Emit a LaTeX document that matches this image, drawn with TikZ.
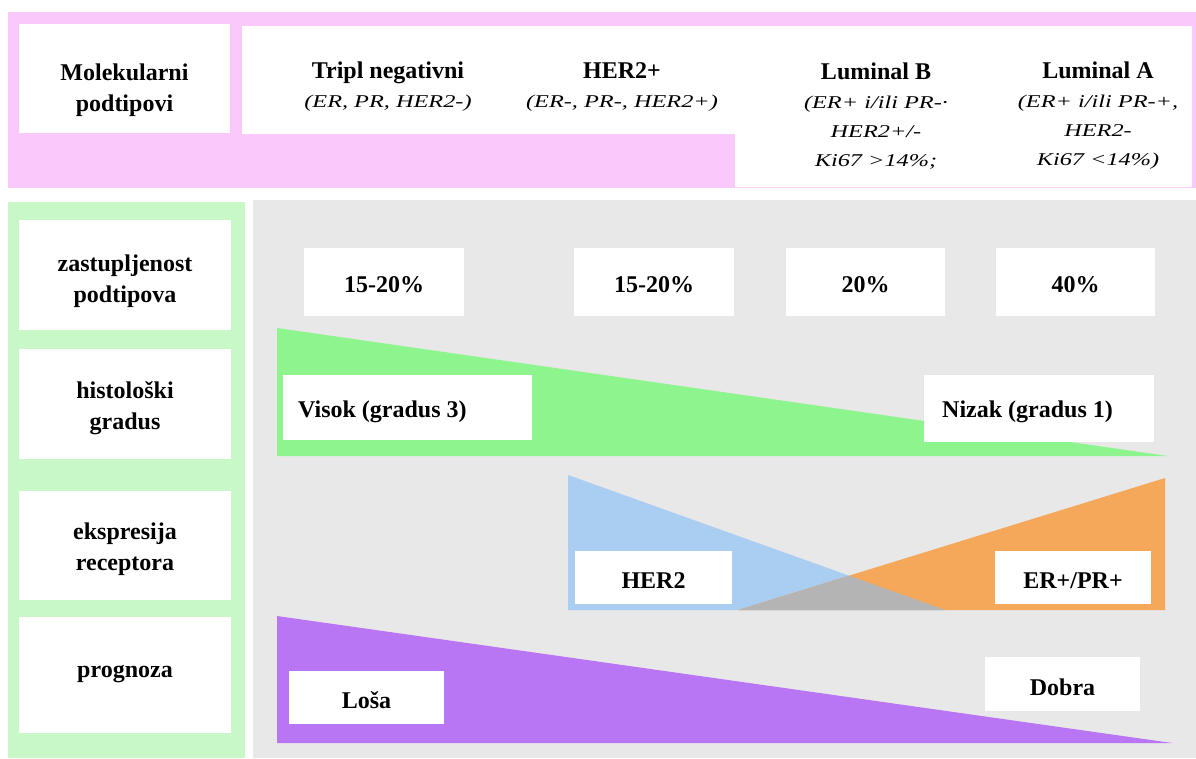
\documentclass[tikz,border=0pt]{standalone}
\usepackage{fontspec}
\setmainfont{Liberation Serif}
\newfontfamily\itfam{Liberation Serif}[FakeStretch=1.35]
\definecolor{pinkc}{HTML}{FAC8FA}
\definecolor{colgreen}{HTML}{C8F8C8}
\definecolor{bggray}{HTML}{E8E8E8}
\definecolor{trigreen}{HTML}{8EF58E}
\definecolor{triblue}{HTML}{AACEF2}
\definecolor{triorange}{HTML}{F5A85A}
\definecolor{tripurple}{HTML}{B876F5}
\definecolor{overlap}{HTML}{B4B4B4}
\tikzset{
  wbox/.style={fill=white, draw=none, inner sep=0pt},
  btxt/.style={inner sep=0pt, align=center, yshift=-3pt,
    font=\fontsize{24}{31}\selectfont\bfseries},
  hdr/.style={inner sep=0pt, align=center, font=\fontsize{24}{29}\selectfont},
  lefttxt/.style={inner sep=0pt, anchor=west, yshift=-3pt,
    font=\fontsize{24}{31}\selectfont\bfseries}
}
\newcommand{\ittxt}[1]{{\itfam\itshape\fontsize{18}{29}\selectfont #1}}
\begin{document}
\begin{tikzpicture}[x=1pt,y=-1pt]
\useasboundingbox (0,0) rectangle (1196,758);
\fill[white] (0,0) rectangle (1196,758);
% header band
\fill[pinkc] (8,12) rectangle (1196,188);
\fill[white] (242,26) -- (1192,26) -- (1192,187) -- (735,187) -- (735,134) -- (242,134) -- cycle;
\node[wbox, minimum width=211, minimum height=109] (mol) at (124.5,78.5) {};
\node[btxt, yshift=-9pt] (molt) at (mol.center) {Molekularni\\podtipovi};
\node[hdr] (tn) at (388,87) {\textbf{Tripl negativni}\\\ittxt{(ER, PR, HER2-)}};
\node[hdr] (her) at (622,87) {\textbf{HER2+}\\\ittxt{(ER-, PR-, HER2+)}};
\node[hdr] (lb) at (876,116) {\textbf{Luminal B}\\\ittxt{(ER+ i/ili PR-·}\\\ittxt{HER2+/-}\\\ittxt{Ki67 >14\%;}};
\node[hdr] (la) at (1098,116) {\textbf{Luminal A}\\\ittxt{(ER+ i/ili PR-+,}\\\ittxt{HER2-}\\\ittxt{Ki67 <14\%)}};
% lower section backgrounds
\fill[colgreen] (8,202) rectangle (245,758);
\fill[bggray] (253,200) rectangle (1196,758);
% row labels
\node[wbox, minimum width=212, minimum height=110] (r1) at (125,275) {};
\node[btxt, yshift=-3pt] (r1t) at (r1.center) {zastupljenost\\podtipova};
\node[wbox, minimum width=212, minimum height=110] (r2) at (125,404) {};
\node[btxt, yshift=-1pt] (r2t) at (r2.center) {histološki\\gradus};
\node[wbox, minimum width=212, minimum height=109] (r3) at (125,545.5) {};
\node[btxt, yshift=-1pt] (r3t) at (r3.center) {ekspresija\\receptora};
\node[wbox, minimum width=212, minimum height=116] (r4) at (125,675) {};
\node[btxt, yshift=4pt] (r4t) at (r4.center) {prognoza};
% row 1 values
\node[wbox, minimum width=160, minimum height=68] (v1) at (384,282) {};
\node[btxt] (v1t) at (v1.center) {15-20\%};
\node[wbox, minimum width=160, minimum height=68] (v2) at (654,282) {};
\node[btxt] (v2t) at (v2.center) {15-20\%};
\node[wbox, minimum width=159, minimum height=68] (v3) at (865.5,282) {};
\node[btxt] (v3t) at (v3.center) {20\%};
\node[wbox, minimum width=159, minimum height=68] (v4) at (1075.5,282) {};
\node[btxt] (v4t) at (v4.center) {40\%};
% histological grade
\fill[trigreen] (277,328) -- (1168,456) -- (277,456) -- cycle;
\node[wbox, minimum width=249, minimum height=65] (visokbox) at (407.5,407.5) {};
\node[lefttxt] (visok) at (298,409) {Visok (gradus 3)};
\node[wbox, minimum width=230, minimum height=67] (nizakbox) at (1039,408.5) {};
\node[lefttxt] (nizak) at (942,409) {Nizak (gradus 1)};
% receptor expression
\coordinate (ba) at (568,475);
\coordinate (bb) at (945,610);
\coordinate (oa) at (738,610);
\coordinate (ob) at (1165,478);
\fill[triblue] (ba) -- (bb) -- (568,610) -- cycle;
\fill[triorange] (ob) -- (1165,610) -- (oa) -- cycle;
\coordinate (ix) at (intersection of ba--bb and oa--ob);
\fill[overlap] (oa) -- (ix) -- (bb) -- cycle;
\node[wbox, minimum width=157, minimum height=53] (her2) at (653.5,577.5) {};
\node[btxt] (her2t) at (her2.center) {HER2};
\node[wbox, minimum width=156, minimum height=53] (erpr) at (1073,577.5) {};
\node[btxt] (erprt) at (erpr.center) {ER+/PR+};
% prognosis
\fill[tripurple] (277,616) -- (1172,743) -- (277,743) -- cycle;
\node[wbox, minimum width=155, minimum height=53] (losa) at (366.5,697.5) {};
\node[btxt] (losat) at (losa.center) {Loša};
\node[wbox, minimum width=155, minimum height=54] (dobra) at (1062.5,684) {};
\node[btxt] (dobrat) at (dobra.center) {Dobra};
\end{tikzpicture}
\end{document}
